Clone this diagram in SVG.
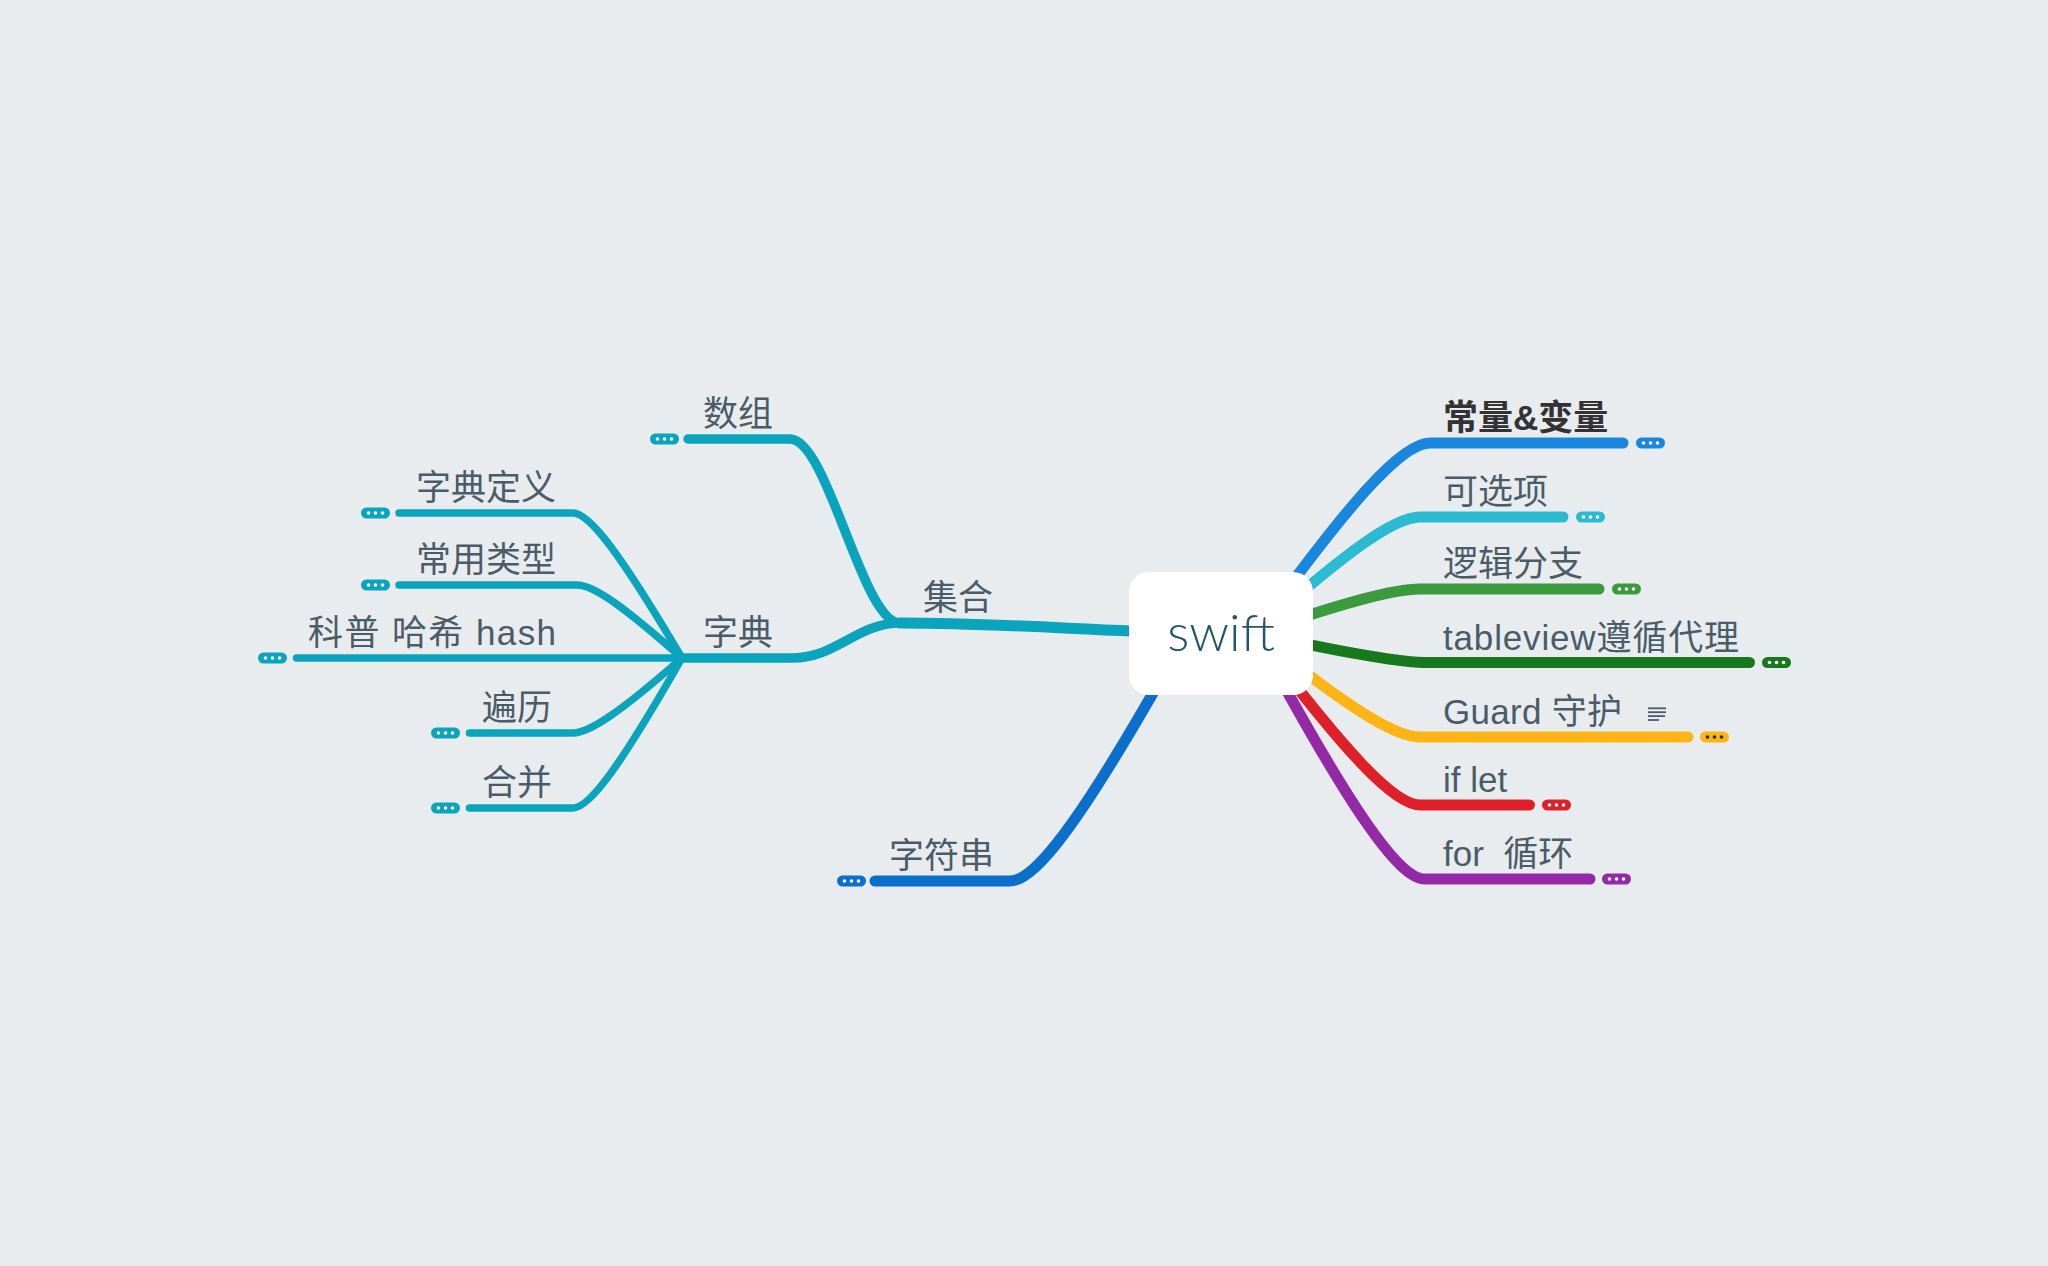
<svg xmlns="http://www.w3.org/2000/svg" xmlns:xlink="http://www.w3.org/1999/xlink" width="2048" height="1266" viewBox="0 0 2048 1266">
<style>
.t{font-family:"Liberation Sans","Noto Sans CJK SC",sans-serif;font-size:35px;fill:#4B5C68;white-space:pre}
.b{font-weight:bold;fill:#333333}
.root{font-family:"Lato","Liberation Sans",sans-serif;font-weight:300;font-size:52px;fill:#22556E}
.c{fill:none;stroke-linecap:round;stroke-linejoin:round}
.w1{stroke-width:11}
.w2{stroke-width:9.5}
.w3{stroke-width:7.5}
.teal{stroke:#0AA4BD}
.icon{stroke:#4B5C68;stroke-width:1.8}
</style>
<defs>
<g id="dots3"><circle cx="7.5" cy="0" r="1.8"/><circle cx="14.5" cy="0" r="1.8"/><circle cx="21.5" cy="0" r="1.8"/></g>
</defs>
<rect x="0" y="0" width="2048" height="1266" fill="#E8ECEF"/>

<g id="connectors">
<path class="c w1" stroke="#1A87DE" d="M1255 633 C1351 500 1402 443 1430 443 H1623"/>
<path class="c w1" stroke="#2ABBD3" d="M1255 633 C1346 552 1394 517 1420 517 H1563"/>
<path class="c w1" stroke="#3B9A3E" d="M1255 633 C1346 602 1394 589 1420 589 H1599"/>
<path class="c w1" stroke="#17791C" d="M1255 633 C1350 654 1400 662.5 1428 662.5 H1749.5"/>
<path class="c w1" stroke="#FDB515" d="M1255 633 C1346 706 1394 737 1420 737 H1688"/>
<path class="c w1" stroke="#DE2128" d="M1255 633 C1346 753 1394 805 1420 805 H1529.5"/>
<path class="c w1" stroke="#9329A7" d="M1255 633 C1348 805 1398 879 1425 879 H1590"/>
<path class="c w1 teal" d="M1187 633 C1080 630 1000 623 900 623"/>
<path class="c w1" stroke="#0B6FCC" d="M1187 633 C1090 807 1038 881 1010 881 H875"/>
<path class="c w2 teal" d="M900 623 C862 623 828 439 790 439 H688"/>
<path class="c w2 teal" d="M900 623 C857 623 836 658 793 658 H682"/>
<path class="c w3 teal" d="M682 658 C622 556.5 590 513 573 513 H399"/>
<path class="c w3 teal" d="M682 658 C624 607 594 585 577 585 H399"/>
<path class="c w3 teal" d="M682 658 H296.5"/>
<path class="c w3 teal" d="M682 658 C622 710.5 590 733 573 733 H469.5"/>
<path class="c w3 teal" d="M682 658 C622 763 590 808 573 808 H469.5"/>
</g>

<g id="root">
<rect x="1129" y="572" width="184" height="123" rx="20" fill="#FFFFFF"/>
<text class="root" x="1221" y="651" text-anchor="middle">swift</text>
</g>

<g id="node-changliang">
<text class="t b" x="1443" y="430">常量&amp;变量</text>
<rect x="1636" y="437.5" width="29" height="11" rx="5.5" fill="#1A87DE"/>
<use xlink:href="#dots3" href="#dots3" transform="translate(1636 443)" fill="#FFFFFF"/>
</g>
<g id="node-kexuanxiang">
<text class="t" x="1443" y="504">可选项</text>
<rect x="1576" y="511.5" width="29" height="11" rx="5.5" fill="#2ABBD3"/>
<use xlink:href="#dots3" href="#dots3" transform="translate(1576 517)" fill="#FFFFFF"/>
</g>
<g id="node-luoji">
<text class="t" x="1443" y="576">逻辑分支</text>
<rect x="1612" y="583.5" width="29" height="11" rx="5.5" fill="#3B9A3E"/>
<use xlink:href="#dots3" href="#dots3" transform="translate(1612 589)" fill="#FFFFFF"/>
</g>
<g id="node-tableview">
<text class="t" x="1443" y="650" textLength="296" lengthAdjust="spacing">tableview遵循代理</text>
<rect x="1762" y="657" width="29" height="11" rx="5.5" fill="#17791C"/>
<use xlink:href="#dots3" href="#dots3" transform="translate(1762 662.5)" fill="#FFFFFF"/>
</g>
<g id="node-guard">
<text class="t" x="1443" y="724" textLength="179" lengthAdjust="spacing">Guard 守护</text>
<g class="icon">
<line x1="1648" y1="708.3" x2="1666" y2="708.3"/>
<line x1="1648" y1="712.2" x2="1666" y2="712.2"/>
<line x1="1648" y1="716.1" x2="1665" y2="716.1"/>
<line x1="1648" y1="720" x2="1659" y2="720"/>
</g>
<rect x="1700" y="731.5" width="29" height="11" rx="5.5" fill="#FDB515"/>
<use xlink:href="#dots3" href="#dots3" transform="translate(1700 737)" fill="#2B2B2B"/>
</g>
<g id="node-iflet">
<text class="t" x="1443" y="792">if let</text>
<rect x="1542" y="799.5" width="29" height="11" rx="5.5" fill="#DE2128"/>
<use xlink:href="#dots3" href="#dots3" transform="translate(1542 805)" fill="#FFFFFF"/>
</g>
<g id="node-for">
<text class="t" x="1443" y="866">for  循环</text>
<rect x="1602" y="873.5" width="29" height="11" rx="5.5" fill="#9329A7"/>
<use xlink:href="#dots3" href="#dots3" transform="translate(1602 879)" fill="#FFFFFF"/>
</g>

<g id="node-jihe">
<text class="t" x="993" y="610" text-anchor="end">集合</text>
</g>
<g id="node-shuzu">
<text class="t" x="773" y="426" text-anchor="end">数组</text>
<rect x="650" y="433.5" width="29" height="11" rx="5.5" fill="#0AA4BD"/>
<use xlink:href="#dots3" href="#dots3" transform="translate(650 439)" fill="#FFFFFF"/>
</g>
<g id="node-zidian">
<text class="t" x="773" y="645" text-anchor="end">字典</text>
</g>
<g id="node-zidiandingyi">
<text class="t" x="556" y="500" text-anchor="end">字典定义</text>
<rect x="361" y="507.5" width="29" height="11" rx="5.5" fill="#0AA4BD"/>
<use xlink:href="#dots3" href="#dots3" transform="translate(361 513)" fill="#FFFFFF"/>
</g>
<g id="node-changyong">
<text class="t" x="556" y="572" text-anchor="end">常用类型</text>
<rect x="361" y="579.5" width="29" height="11" rx="5.5" fill="#0AA4BD"/>
<use xlink:href="#dots3" href="#dots3" transform="translate(361 585)" fill="#FFFFFF"/>
</g>
<g id="node-hash">
<text class="t" x="308" y="645" textLength="248" lengthAdjust="spacing">科普 哈希 hash</text>
<rect x="258" y="652.5" width="29" height="11" rx="5.5" fill="#0AA4BD"/>
<use xlink:href="#dots3" href="#dots3" transform="translate(258 658)" fill="#FFFFFF"/>
</g>
<g id="node-bianli">
<text class="t" x="552" y="720" text-anchor="end">遍历</text>
<rect x="431" y="727.5" width="29" height="11" rx="5.5" fill="#0AA4BD"/>
<use xlink:href="#dots3" href="#dots3" transform="translate(431 733)" fill="#FFFFFF"/>
</g>
<g id="node-hebing">
<text class="t" x="552" y="795" text-anchor="end">合并</text>
<rect x="431" y="802.5" width="29" height="11" rx="5.5" fill="#0AA4BD"/>
<use xlink:href="#dots3" href="#dots3" transform="translate(431 808)" fill="#FFFFFF"/>
</g>
<g id="node-zifuchuan">
<text class="t" x="994" y="868" text-anchor="end">字符串</text>
<rect x="837" y="875.5" width="29" height="11" rx="5.5" fill="#0B6FCC"/>
<use xlink:href="#dots3" href="#dots3" transform="translate(837 881)" fill="#FFFFFF"/>
</g>
</svg>
